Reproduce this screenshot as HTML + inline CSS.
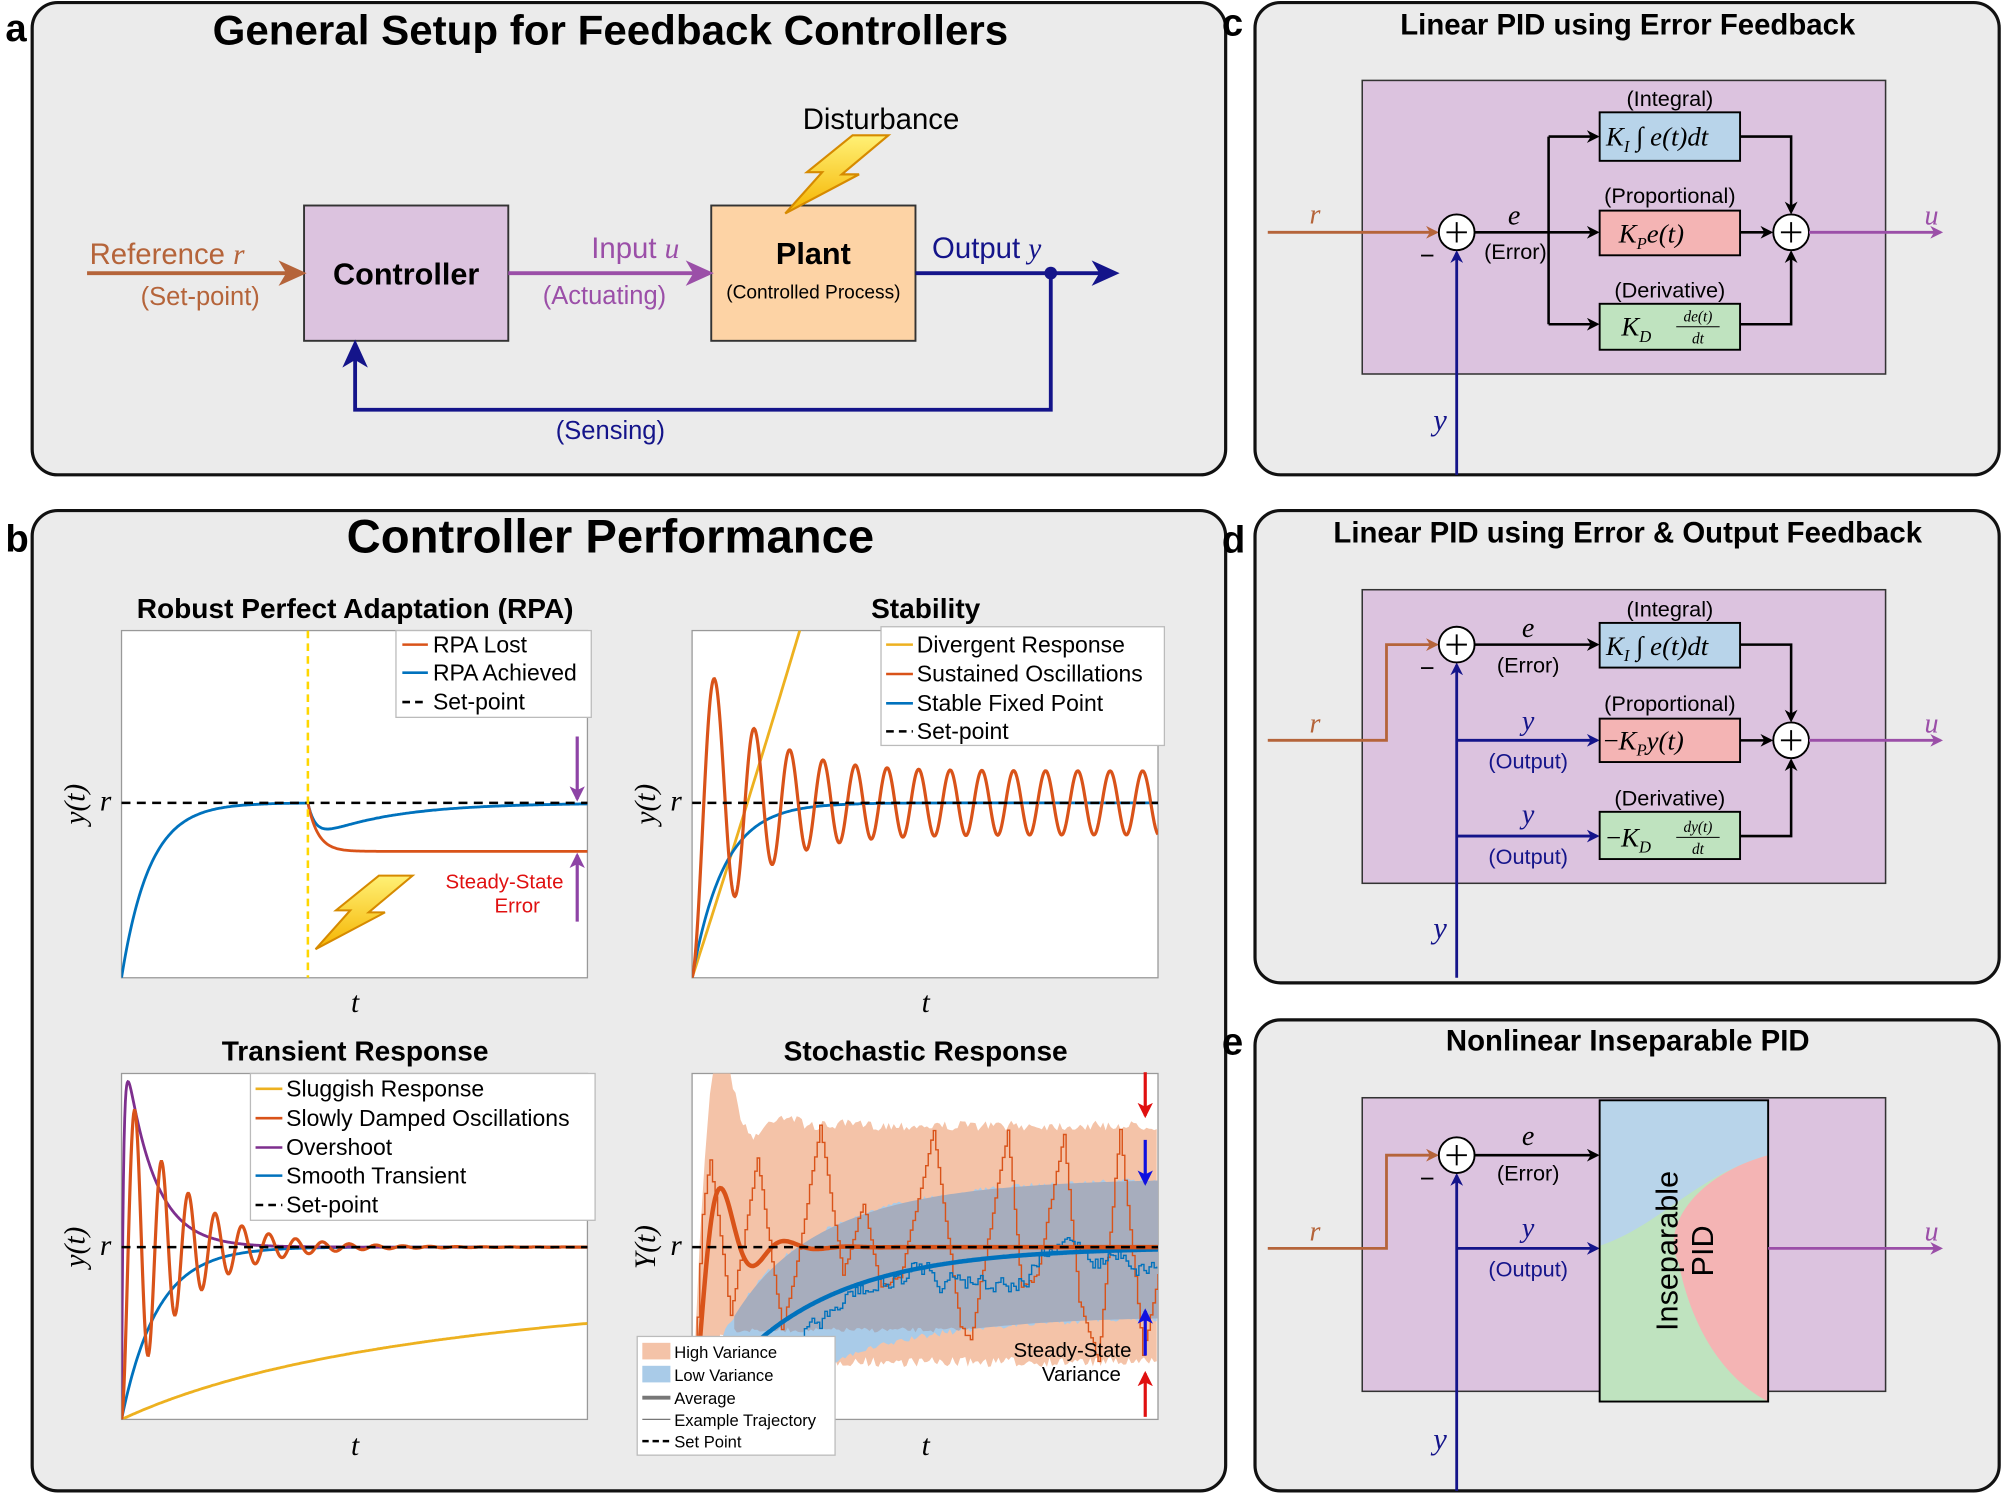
<!DOCTYPE html>
<html><head><meta charset="utf-8"><style>
html,body{margin:0;padding:0;background:#fff;}
svg{display:block;}
.s{font-family:"Liberation Sans",sans-serif;}
.m{font-family:"Liberation Serif",serif;font-style:italic;}
</style></head><body>
<svg id="g" width="2002" height="1496" viewBox="0 0 1568 1172" xmlns="http://www.w3.org/2000/svg">
<defs>
<marker id="ab" markerWidth="10" markerHeight="10" refX="8" refY="5" orient="auto" markerUnits="userSpaceOnUse"><path d="M0,0 L10,5 L0,10 L3,5z" fill="#b5643a"/></marker>
<marker id="ap" markerWidth="10" markerHeight="10" refX="8" refY="5" orient="auto" markerUnits="userSpaceOnUse"><path d="M0,0 L10,5 L0,10 L3,5z" fill="#9b4fa8"/></marker>
<marker id="an" markerWidth="10" markerHeight="10" refX="8" refY="5" orient="auto" markerUnits="userSpaceOnUse"><path d="M0,0 L10,5 L0,10 L3,5z" fill="#14148a"/></marker>
<marker id="ak" markerWidth="10" markerHeight="10" refX="8" refY="5" orient="auto" markerUnits="userSpaceOnUse"><path d="M0,0 L10,5 L0,10 L3,5z" fill="#000"/></marker>
<marker id="abig" markerWidth="22" markerHeight="20" refX="18" refY="10" orient="auto" markerUnits="userSpaceOnUse"><path d="M0,0 L22,10 L0,20 L6,10z" fill="#14148a"/></marker>
<marker id="abigb" markerWidth="22" markerHeight="20" refX="18" refY="10" orient="auto" markerUnits="userSpaceOnUse"><path d="M0,0 L22,10 L0,20 L6,10z" fill="#b5643a"/></marker>
<marker id="abigp" markerWidth="22" markerHeight="20" refX="18" refY="10" orient="auto" markerUnits="userSpaceOnUse"><path d="M0,0 L22,10 L0,20 L6,10z" fill="#9b4fa8"/></marker>
<marker id="amp" markerWidth="12" markerHeight="12" refX="10" refY="6" orient="auto" markerUnits="userSpaceOnUse"><path d="M0,0 L12,6 L0,12 L3,6z" fill="#8e44a6"/></marker>
<marker id="amr" markerWidth="12" markerHeight="12" refX="10" refY="6" orient="auto" markerUnits="userSpaceOnUse"><path d="M0,0 L12,6 L0,12 L3,6z" fill="#e01010"/></marker>
<marker id="amb" markerWidth="12" markerHeight="12" refX="10" refY="6" orient="auto" markerUnits="userSpaceOnUse"><path d="M0,0 L12,6 L0,12 L3,6z" fill="#1010e0"/></marker>
<linearGradient id="bolt" x1="0" y1="0" x2="0" y2="1"><stop offset="0" stop-color="#fff176"/><stop offset="1" stop-color="#f5b400"/></linearGradient>
<clipPath id="c1"><rect x="95" y="494" width="365" height="272"/></clipPath>
<clipPath id="c2"><rect x="542" y="494" width="365" height="272"/></clipPath>
<clipPath id="c3"><rect x="95" y="841" width="365" height="271"/></clipPath>
<clipPath id="c4"><rect x="542" y="841" width="365" height="271"/></clipPath>
</defs>

<!-- Panel a -->
<rect x="25" y="2" width="935" height="370" rx="20" fill="#ebebeb" stroke="#111" stroke-width="2.5"/>
<text x="4" y="32" class="s" font-size="30" font-weight="bold">a</text>
<text x="478" y="35" class="s" font-size="33" font-weight="bold" text-anchor="middle">General Setup for Feedback Controllers</text>
<rect x="238" y="161" width="160" height="106" fill="#dcc3df" stroke="#333" stroke-width="1.5"/>
<text x="318" y="223" class="s" font-size="24" font-weight="bold" text-anchor="middle">Controller</text>
<rect x="557" y="161" width="160" height="106" fill="#fdd3a5" stroke="#333" stroke-width="1.5"/>
<text x="637" y="207" class="s" font-size="24" font-weight="bold" text-anchor="middle">Plant</text>
<text x="637" y="234" class="s" font-size="15" text-anchor="middle">(Controlled Process)</text>
<line x1="68" y1="214" x2="236" y2="214" stroke="#b5643a" stroke-width="3" marker-end="url(#abigb)"/>
<text x="70" y="207" class="s" font-size="23" fill="#b5643a">Reference <tspan class="m">r</tspan></text>
<text x="110" y="239" class="s" font-size="20" fill="#b5643a">(Set-point)</text>
<line x1="398" y1="214" x2="555" y2="214" stroke="#9b4fa8" stroke-width="3" marker-end="url(#abigp)"/>
<text x="463" y="202" class="s" font-size="23" fill="#9b4fa8">Input <tspan class="m">u</tspan></text>
<text x="425" y="238" class="s" font-size="20" fill="#9b4fa8">(Actuating)</text>
<line x1="717" y1="214" x2="873" y2="214" stroke="#14148a" stroke-width="3" marker-end="url(#abig)"/>
<circle cx="823" cy="214" r="5" fill="#14148a"/>
<text x="730" y="202" class="s" font-size="23" fill="#14148a">Output <tspan class="m">y</tspan></text>
<polyline points="823,214 823,321 278,321 278,270" fill="none" stroke="#14148a" stroke-width="3" marker-end="url(#abig)"/>
<text x="478" y="344" class="s" font-size="20" fill="#14148a" text-anchor="middle">(Sensing)</text>
<text x="690" y="101" class="s" font-size="23" text-anchor="middle">Disturbance</text>
<g transform="translate(615,106)"><path d="M62,0 L95,0 L52,36 L68,36 L0,72 L34,34 L20,34 Z" transform="scale(0.85)" fill="url(#bolt)" stroke="#d68a00" stroke-width="2"/></g>

<!-- Panel b -->
<rect x="25" y="400" width="935" height="768" rx="20" fill="#ebebeb" stroke="#111" stroke-width="2.5"/>
<text x="4" y="432" class="s" font-size="30" font-weight="bold">b</text>
<text x="478" y="433" class="s" font-size="37" font-weight="bold" text-anchor="middle">Controller Performance</text>

<g class="s" font-size="22" font-weight="bold" text-anchor="middle">
<text x="278" y="484">Robust Perfect Adaptation (RPA)</text>
<text x="725" y="484">Stability</text>
<text x="278" y="831">Transient Response</text>
<text x="725" y="831">Stochastic Response</text>
</g>
<rect x="95" y="494" width="365" height="272" fill="#fff" stroke="#999"/>
<rect x="542" y="494" width="365" height="272" fill="#fff" stroke="#999"/>
<rect x="95" y="841" width="365" height="271" fill="#fff" stroke="#999"/>
<rect x="542" y="841" width="365" height="271" fill="#fff" stroke="#999"/>

<g class="m" font-size="23">
<text x="278" y="793" text-anchor="middle">t</text>
<text x="725" y="793" text-anchor="middle">t</text>
<text x="278" y="1140" text-anchor="middle">t</text>
<text x="725" y="1140" text-anchor="middle">t</text>
<text x="78" y="635">r</text><text x="525" y="635">r</text><text x="78" y="983">r</text><text x="525" y="983">r</text>
<text transform="translate(66,630) rotate(-90)" text-anchor="middle">y(t)</text>
<text transform="translate(513,630) rotate(-90)" text-anchor="middle">y(t)</text>
<text transform="translate(66,977) rotate(-90)" text-anchor="middle">y(t)</text>
<text transform="translate(513,977) rotate(-90)" text-anchor="middle">Y(t)</text>
</g>

<g id="curves"></g>

<!-- RPA extras -->
<line x1="452" y1="577" x2="452" y2="626" stroke="#8e44a6" stroke-width="2.5" marker-end="url(#amp)"/>
<line x1="452" y1="722" x2="452" y2="670" stroke="#8e44a6" stroke-width="2.5" marker-end="url(#amp)"/>
<text x="395" y="696" class="s" font-size="16" fill="#e01010" text-anchor="middle">Steady-State</text>
<text x="405" y="715" class="s" font-size="16" fill="#e01010" text-anchor="middle">Error</text>
<g transform="translate(247,686)"><path d="M62,0 L95,0 L52,36 L68,36 L0,72 L34,34 L20,34 Z" transform="scale(0.8)" fill="url(#bolt)" stroke="#d68a00" stroke-width="2"/></g>
<!-- Legends -->
<g class="s" font-size="18">
<rect x="310" y="494" width="153" height="68" fill="#fff" stroke="#bbb"/>
<line x1="315" y1="505" x2="335" y2="505" stroke="#d95319" stroke-width="2"/><text x="339" y="511">RPA Lost</text>
<line x1="315" y1="527" x2="335" y2="527" stroke="#0072bd" stroke-width="2"/><text x="339" y="533">RPA Achieved</text>
<line x1="315" y1="550" x2="335" y2="550" stroke="#000" stroke-width="2" stroke-dasharray="6,4"/><text x="339" y="556">Set-point</text>

<rect x="690" y="491" width="222" height="93" fill="#fff" stroke="#bbb"/>
<line x1="694" y1="505" x2="715" y2="505" stroke="#edb120" stroke-width="2"/><text x="718" y="511">Divergent Response</text>
<line x1="694" y1="528" x2="715" y2="528" stroke="#d95319" stroke-width="2"/><text x="718" y="534">Sustained Oscillations</text>
<line x1="694" y1="551" x2="715" y2="551" stroke="#0072bd" stroke-width="2"/><text x="718" y="557">Stable Fixed Point</text>
<line x1="694" y1="573" x2="715" y2="573" stroke="#000" stroke-width="2" stroke-dasharray="6,4"/><text x="718" y="579">Set-point</text>

<rect x="196" y="841" width="270" height="115" fill="#fff" stroke="#bbb"/>
<line x1="200" y1="853" x2="221" y2="853" stroke="#edb120" stroke-width="2"/><text x="224" y="859">Sluggish Response</text>
<line x1="200" y1="876" x2="221" y2="876" stroke="#d95319" stroke-width="2"/><text x="224" y="882">Slowly Damped Oscillations</text>
<line x1="200" y1="899" x2="221" y2="899" stroke="#7e2f8e" stroke-width="2"/><text x="224" y="905">Overshoot</text>
<line x1="200" y1="921" x2="221" y2="921" stroke="#0072bd" stroke-width="2"/><text x="224" y="927">Smooth Transient</text>
<line x1="200" y1="944" x2="221" y2="944" stroke="#000" stroke-width="2" stroke-dasharray="6,4"/><text x="224" y="950">Set-point</text>
</g>
<g id="stochExtras">
<line x1="897" y1="840" x2="897" y2="874" stroke="#e01010" stroke-width="2.5" marker-end="url(#amr)"/>
<line x1="897" y1="1110" x2="897" y2="1076" stroke="#e01010" stroke-width="2.5" marker-end="url(#amr)"/>
<line x1="897" y1="893" x2="897" y2="927" stroke="#1010e0" stroke-width="2.5" marker-end="url(#amb)"/>
<line x1="897" y1="1062" x2="897" y2="1027" stroke="#1010e0" stroke-width="2.5" marker-end="url(#amb)"/>
<text x="840" y="1063" class="s" font-size="16" text-anchor="middle">Steady-State</text>
<text x="847" y="1082" class="s" font-size="16" text-anchor="middle">Variance</text>
<g class="s" font-size="13">
<rect x="499" y="1047" width="155" height="93" fill="#fff" stroke="#bbb"/>
<rect x="503" y="1052" width="22" height="13" fill="#f4c3a8"/><text x="528" y="1064">High Variance</text>
<rect x="503" y="1070" width="22" height="13" fill="#a9cbe8"/><text x="528" y="1082">Low Variance</text>
<line x1="503" y1="1095" x2="525" y2="1095" stroke="#777" stroke-width="3"/><text x="528" y="1100">Average</text>
<line x1="503" y1="1112" x2="525" y2="1112" stroke="#777" stroke-width="1"/><text x="528" y="1117">Example Trajectory</text>
<line x1="503" y1="1129" x2="525" y2="1129" stroke="#000" stroke-width="2" stroke-dasharray="5,3"/><text x="528" y="1134">Set Point</text>
</g>
</g>

<!-- Panel c -->
<rect x="983" y="2" width="583" height="370" rx="20" fill="#ebebeb" stroke="#111" stroke-width="2.5"/>
<text x="957" y="28" class="s" font-size="30" font-weight="bold">c</text>
<text x="1275" y="27" class="s" font-size="23" font-weight="bold" text-anchor="middle">Linear PID using Error Feedback</text>
<rect x="1067" y="63" width="410" height="230" fill="#dcc3df" stroke="#333" stroke-width="1.2"/>
<!-- Panel d -->
<rect x="983" y="400" width="583" height="370" rx="20" fill="#ebebeb" stroke="#111" stroke-width="2.5"/>
<text x="957" y="433" class="s" font-size="30" font-weight="bold">d</text>
<text x="1275" y="425" class="s" font-size="23" font-weight="bold" text-anchor="middle">Linear PID using Error &amp; Output Feedback</text>
<rect x="1067" y="462" width="410" height="230" fill="#dcc3df" stroke="#333" stroke-width="1.2"/>
<!-- Panel e -->
<rect x="983" y="799" width="583" height="369" rx="20" fill="#ebebeb" stroke="#111" stroke-width="2.5"/>
<text x="957" y="826" class="s" font-size="30" font-weight="bold">e</text>
<text x="1275" y="823" class="s" font-size="23" font-weight="bold" text-anchor="middle">Nonlinear Inseparable PID</text>
<rect x="1067" y="860" width="410" height="230" fill="#dcc3df" stroke="#333" stroke-width="1.2"/>

<g id="right"></g>
</svg>
<script>
(function(){
var NS="http://www.w3.org/2000/svg";
function el(parent,tag,attrs,txt){var e=document.createElementNS(NS,tag);for(var k in attrs)e.setAttribute(k,attrs[k]);if(txt!==undefined)e.textContent=txt;parent.appendChild(e);return e;}
function P(pts){return "M"+pts.map(function(p){return p[0].toFixed(1)+","+p[1].toFixed(1)}).join("L");}
function curve(x0,x1,f,step){var a=[];step=step||1;for(var x=x0;x<=x1+0.001;x+=step)a.push([x,f(x-x0)]);return a;}
var svg=document.getElementById("g");
var C=document.getElementById("curves");
var seed=7;function rnd(){seed=(seed*16807)%2147483647;return seed/2147483647;}
function line(g,pts,col,w,dash){var a={d:P(pts),fill:"none",stroke:col,"stroke-width":w};if(dash)a["stroke-dasharray"]=dash;return el(g,"path",a);}
// RPA
var g1=el(C,"g",{"clip-path":"url(#c1)"});
line(g1,curve(95,241,function(u){return 629+137*Math.exp(-u/22)}),"#0072bd",2.2);
line(g1,curve(241,460,function(u){return 629+21*(Math.exp(-u/60)-Math.exp(-u/6))*1.4}),"#0072bd",2.2);
line(g1,curve(241,460,function(u){return 667-38*Math.exp(-u/8)}),"#d95319",2.2);
line(g1,[[95,629],[460,629]],"#000",2,"7,5");
line(g1,[[241,494],[241,766]],"#ffd700",2,"6,4");
// Stability
var g2=el(C,"g",{"clip-path":"url(#c2)"});
line(g2,curve(542,640,function(u){return 766-u*3.1-u*u*0.0015}),"#edb120",2.2);
line(g2,curve(542,907,function(u){return 629+137*Math.exp(-u/25)}),"#0072bd",2.2);
line(g2,curve(542,907,function(u){var A=112*Math.exp(-u/40)+25;return 629+A*Math.cos(2*Math.PI*u/(26+12*Math.exp(-u/80)))},0.5),"#d95319",2.5);
line(g2,[[542,629],[907,629]],"#000",2,"7,5");
// Transient
var g3=el(C,"g",{"clip-path":"url(#c3)"});
line(g3,curve(95,460,function(u){return 1112-135*u/(u+290)}),"#edb120",2.2);
line(g3,curve(95,460,function(u){return 977+135*Math.exp(-u/28)}),"#0072bd",2.2);
line(g3,curve(95,460,function(u){return 977+135*Math.exp(-u/1.5)-175*(1-Math.exp(-u/1.5))*Math.exp(-u/22)},0.5),"#7e2f8e",2.2);
line(g3,curve(95,460,function(u){return 977+135*Math.exp(-u/45)*Math.cos(2*Math.PI*u/21)},0.5),"#d95319",2.5);
line(g3,[[95,977],[460,977]],"#000",2,"7,5");
// Stochastic
var g4=el(C,"g",{"clip-path":"url(#c4)"});
function oavg(u){return 977+135*Math.exp(-u/22)*Math.cos(2*Math.PI*u/50);}
function bavg(u){return 977+135*Math.exp(-u/85);}
var up=[],lo=[],x,u,i;
for(x=542;x<=907;x+=2){u=x-542;var w=(1-Math.exp(-u/6));var n1=(rnd()-0.5)*8,n2=(rnd()-0.5)*8;
 var tp=oavg(u)-w*(95+35*Math.exp(-u/30))+n1; var bt0=oavg(u)+w*90+n2; if(u<40)bt0=Math.min(1112,bt0+(40-u)*1.5);
 up.push([x,tp]);lo.push([x,bt0]);}
el(g4,"path",{d:P(up.concat(lo.reverse()))+"Z",fill:"#f4c3a8"});
var bu=[],bl=[];
for(x=542;x<=907;x+=2){u=x-542;var w2=50*(1-Math.exp(-u/30))+4;var m=bavg(u);bu.push([x,m-w2+(rnd()-0.5)*5]);bl.push([x,m+w2+(rnd()-0.5)*5]);}
el(g4,"path",{d:P(bu.concat(bl.reverse()))+"Z",fill:"#a9cbe8"});
var gu=[],gl=[];
for(x=575;x<=907;x+=2){u=x-542;var w3=50*(1-Math.exp(-u/30))+4;var m2=bavg(u);gu.push([x,m2-w3]);gl.push([x,Math.min(m2+w3,1042+(rnd()-0.5)*4)]);}
el(g4,"path",{d:P(gu.concat(gl.reverse()))+"Z",fill:"#a7adbd"});
var ot=[[542,1112]];
var peaks=[[550,950],[556,908],[572,1030],[593,908],[612,1040],[622,1000],[642,883],[660,1000],[676,942],[690,1010],[705,1000],[731,885],[752,1040],[760,1050],[789,885],[800,1010],[812,1000],[833,888],[845,1020],[860,1065],[877,883],[895,1060],[907,1000]];
for(i=0;i<peaks.length;i++){var p=peaks[i];var px=ot[ot.length-1][0],py=ot[ot.length-1][1];var n=Math.max(2,Math.round((p[0]-px)/2));
 for(var k=1;k<=n;k++){var xx=px+(p[0]-px)*k/n;var yy=py+(p[1]-py)*k/n+(rnd()-0.5)*4;ot.push([xx,ot[ot.length-1][1]]);ot.push([xx,yy]);}}
line(g4,ot,"#d95319",1.1);
var btr=[];var yb=1112;
for(x=542;x<=907;x+=2){u=x-542;var m3=bavg(u);yb+=(m3-yb)*0.08+(rnd()-0.5)*16;if(x<570)yb=Math.max(yb,1060);btr.push([x,btr.length?btr[btr.length-1][1]:yb]);btr.push([x,yb]);}
line(g4,btr,"#0072bd",1.1);
line(g4,curve(542,907,bavg),"#0072bd",3.5);
line(g4,curve(542,907,oavg),"#d95319",3.5);
line(g4,[[542,977],[907,977]],"#000",2,"7,5");
svg.insertBefore(C, document.getElementById("stochExtras"));

// Right panels
var R=document.getElementById("right");
var NAV="#14148a",BR="#b5643a",PU="#9b4fa8";
function sum(cx,cy){el(R,"circle",{cx:cx,cy:cy,r:14,fill:"#fff",stroke:"#000","stroke-width":1.5});el(R,"path",{d:"M"+(cx-8)+","+cy+"H"+(cx+8)+"M"+cx+","+(cy-8)+"V"+(cy+8),stroke:"#000","stroke-width":1.5});}
function arr(d,col,mk,w){el(R,"path",{d:d,fill:"none",stroke:col,"stroke-width":w||2.2,"marker-end":"url(#"+mk+")"});}
function T(x,y,s,opt){var a={x:x,y:y,"font-size":opt.fs||18,"text-anchor":opt.anc||"middle",fill:opt.fill||"#000","class":opt.cls||"s"};return el(R,"text",a,s);}
function box(x,y,w,h,f){el(R,"rect",{x:x,y:y,width:w,height:h,fill:f,stroke:"#000","stroke-width":1.5});}
function kterm(x,y,sub,rest,neg){var t=el(R,"text",{x:x,y:y,"font-size":21,"class":"m","text-anchor":"start"});
 if(neg)el(t,"tspan",{"font-style":"normal"},"\u2212");el(t,"tspan",{},"K");el(t,"tspan",{dy:5,"font-size":13},sub);el(t,"tspan",{dy:-5},rest);return t;}
function frac(x,y,num){T(x,y-6,num,{fs:12,cls:"m"});T(x,y+11,"dt",{fs:12,cls:"m"});el(R,"line",{x1:x-17,x2:x+17,y1:y-2,y2:y-2,stroke:"#000","stroke-width":0.8});}
// ---- c ----
arr("M993,182H1125",BR,"ab");T(1030,175,"r",{cls:"m",fill:BR,fs:22});
T(1186,176,"e",{cls:"m",fs:22});T(1187,203,"(Error)",{fs:17});T(1118,207,"\u2212",{fs:20});
arr("M1141,372V198",NAV,"an");T(1128,337,"y",{cls:"m",fill:NAV,fs:24});
el(R,"path",{d:"M1155,182H1213M1213,107V254",stroke:"#000","stroke-width":2,fill:"none"});
arr("M1213,107H1251","#000","ak",2);arr("M1213,182H1251","#000","ak",2);arr("M1213,254H1251","#000","ak",2);
sum(1141,182);
box(1253,88,110,38,"#b8d4ea");box(1253,165,110,35,"#f4b4b4");box(1253,238,110,36,"#bfe3bf");
T(1308,83,"(Integral)",{fs:17});T(1308,159,"(Proportional)",{fs:17});T(1308,233,"(Derivative)",{fs:17});
kterm(1258,114,"I"," \u222B e(t)dt");kterm(1268,190,"P","e(t)");kterm(1270,263,"D","");frac(1330,258,"de(t)");
arr("M1363,107H1403V166","#000","ak",2);arr("M1363,182H1387","#000","ak",2);arr("M1363,254H1403V198","#000","ak",2);
sum(1403,182);
arr("M1417,182H1520",PU,"ap");T(1513,176,"u",{cls:"m",fill:PU,fs:22});
// ---- d ----
arr("M993,580H1086V505H1125",BR,"ab");T(1030,574,"r",{cls:"m",fill:BR,fs:22});
T(1197,499,"e",{cls:"m",fs:22});T(1197,527,"(Error)",{fs:17});T(1118,530,"\u2212",{fs:20});
arr("M1141,766V521",NAV,"an");T(1128,735,"y",{cls:"m",fill:NAV,fs:24});
arr("M1155,505H1251","#000","ak",2);
arr("M1141,580H1251",NAV,"an");arr("M1141,655H1251",NAV,"an");
sum(1141,505);
T(1197,572,"y",{cls:"m",fill:NAV,fs:22});T(1197,602,"(Output)",{fill:NAV,fs:17});
T(1197,645,"y",{cls:"m",fill:NAV,fs:22});T(1197,677,"(Output)",{fill:NAV,fs:17});
box(1253,488,110,35,"#b8d4ea");box(1253,563,110,34,"#f4b4b4");box(1253,636,110,37,"#bfe3bf");
T(1308,483,"(Integral)",{fs:17});T(1308,557,"(Proportional)",{fs:17});T(1308,631,"(Derivative)",{fs:17});
kterm(1258,513,"I"," \u222B e(t)dt");kterm(1256,587,"P","y(t)",true);kterm(1258,663,"D","",true);frac(1330,658,"dy(t)");
arr("M1363,505H1403V564","#000","ak",2);arr("M1363,580H1387","#000","ak",2);arr("M1363,655H1403V596","#000","ak",2);
sum(1403,580);
arr("M1417,580H1520",PU,"ap");T(1513,574,"u",{cls:"m",fill:PU,fs:22});
// ---- e ----
arr("M993,978H1086V905H1125",BR,"ab");T(1030,972,"r",{cls:"m",fill:BR,fs:22});
T(1197,897,"e",{cls:"m",fs:22});T(1197,925,"(Error)",{fs:17});T(1118,930,"\u2212",{fs:20});
arr("M1141,1168V921",NAV,"an");T(1128,1135,"y",{cls:"m",fill:NAV,fs:24});
arr("M1155,905H1251","#000","ak",2);arr("M1141,978H1251",NAV,"an");
sum(1141,905);
T(1197,969,"y",{cls:"m",fill:NAV,fs:22});T(1197,1000,"(Output)",{fill:NAV,fs:17});
el(R,"rect",{x:1253,y:862,width:132,height:236,fill:"#bfe3bf"});
el(R,"path",{d:"M1253,862H1385V905C1330,920 1300,960 1253,976Z",fill:"#b8d4ea"});
el(R,"path",{d:"M1385,905C1330,920 1300,960 1315,990C1325,1040 1350,1080 1385,1098Z",fill:"#f4b4b4"});
el(R,"rect",{x:1253,y:862,width:132,height:236,fill:"none",stroke:"#000","stroke-width":1.5});
var tt=el(R,"text",{transform:"translate(1318,980) rotate(-90)","font-size":24,"text-anchor":"middle","class":"s"});
el(tt,"tspan",{x:0,dy:-4},"Inseparable");el(tt,"tspan",{x:0,dy:28},"PID");
arr("M1385,978H1520",PU,"ap");T(1513,972,"u",{cls:"m",fill:PU,fs:22});
})();
</script>
</body></html>
